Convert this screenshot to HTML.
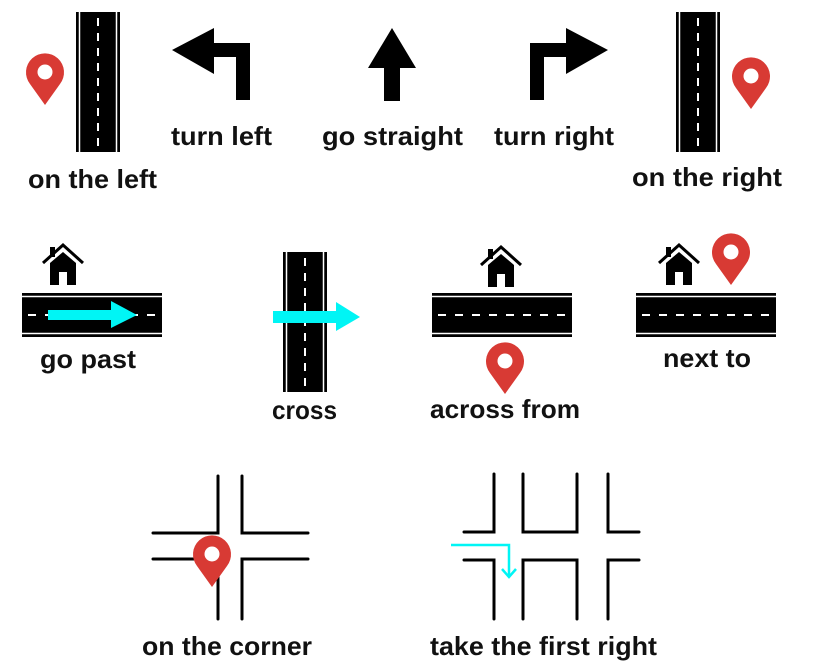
<!DOCTYPE html>
<html><head><meta charset="utf-8"><style>html,body{margin:0;padding:0;background:#fff}svg{display:block}text{font-family:"Liberation Sans",sans-serif;font-weight:bold;font-size:26px;fill:#111}</style></head>
<body>
<svg width="822" height="666" viewBox="0 0 822 666" xmlns="http://www.w3.org/2000/svg">
<defs>
<g id="pin"><path d="M19 52 L4 31 A19 19 0 1 1 34 31 Z" fill="#d83a34"/><circle cx="19" cy="19" r="7.5" fill="#fff"/></g>
<g id="vroad"><rect x="0" y="0" width="44" height="140" fill="#000"/><line x1="3.5" y1="0" x2="3.5" y2="140" stroke="#fff" stroke-width="1.5"/><line x1="40.5" y1="0" x2="40.5" y2="140" stroke="#fff" stroke-width="1.5"/><line x1="22" y1="6" x2="22" y2="140" stroke="#fff" stroke-width="2" stroke-dasharray="8,7"/></g>
<g id="hroad"><rect x="0" y="0" width="140" height="44" fill="#000"/><line x1="0" y1="3.5" x2="140" y2="3.5" stroke="#fff" stroke-width="1.5"/><line x1="0" y1="40.5" x2="140" y2="40.5" stroke="#fff" stroke-width="1.5"/><line x1="6" y1="22" x2="140" y2="22" stroke="#fff" stroke-width="2" stroke-dasharray="8,9"/></g>
<g id="house"><polyline points="1,20 21,2 41,20" fill="none" stroke="#000" stroke-width="3"/><rect x="8" y="4" width="5" height="10" fill="#000"/><path d="M8 20 L21 9 L34 20 L34 42 L8 42 Z" fill="#000"/><rect x="17" y="29" width="8" height="13" fill="#fff"/></g>
</defs>

<use href="#vroad" x="76" y="12"/>
<use href="#pin" x="26" y="53"/>
<text x="28" y="188" textLength="129" lengthAdjust="spacingAndGlyphs">on the left</text>
<path d="M172 50 L214 28 L214 43 L250 43 L250 100 L236 100 L236 57 L214 57 L214 74 Z" fill="#000"/>
<text x="171" y="145" textLength="101" lengthAdjust="spacingAndGlyphs">turn left</text>
<path d="M392 28 L416 68 L400 68 L400 101 L384 101 L384 68 L368 68 Z" fill="#000"/>
<text x="322" y="145" textLength="141" lengthAdjust="spacingAndGlyphs">go straight</text>
<path d="M608 50 L566 28 L566 43 L530 43 L530 100 L544 100 L544 57 L566 57 L566 74 Z" fill="#000"/>
<text x="494" y="145" textLength="120" lengthAdjust="spacingAndGlyphs">turn right</text>
<use href="#vroad" x="676" y="12"/>
<use href="#pin" x="732" y="57"/>
<text x="632" y="186" textLength="150" lengthAdjust="spacingAndGlyphs">on the right</text>

<use href="#house" x="42" y="243"/>
<use href="#hroad" x="22" y="293"/>
<path d="M48 310 L111 310 L111 301 L137 315 L111 328 L111 320 L48 320 Z" fill="#00f5f5"/>
<text x="40" y="368" textLength="96" lengthAdjust="spacingAndGlyphs">go past</text>

<use href="#vroad" x="283" y="252"/>
<path d="M273 311 L336 311 L336 302 L360 317 L336 331 L336 323 L273 323 Z" fill="#00f5f5"/>
<text x="272" y="419" textLength="65" lengthAdjust="spacingAndGlyphs">cross</text>

<use href="#house" x="480" y="245"/>
<use href="#hroad" x="432" y="293"/>
<use href="#pin" x="486" y="342"/>
<text x="430" y="418" textLength="150" lengthAdjust="spacingAndGlyphs">across from</text>

<use href="#house" x="658" y="243"/>
<use href="#pin" x="712" y="233"/>
<use href="#hroad" x="636" y="293"/>
<text x="663" y="367" textLength="88" lengthAdjust="spacingAndGlyphs">next to</text>

<g fill="none" stroke="#000" stroke-width="3" stroke-linecap="round" stroke-linejoin="miter">
<polyline points="218,476 218,533 153,533"/>
<polyline points="242,476 242,533 308,533"/>
<polyline points="153,559 218,559 218,619"/>
<polyline points="308,559 242,559 242,619"/>
<polyline points="494,474 494,532 464,532"/>
<polyline points="523,474 523,532 577,532 577,474"/>
<polyline points="608,474 608,532 639,532"/>
<polyline points="464,560 494,560 494,619"/>
<polyline points="523,619 523,560 577,560 577,619"/>
<polyline points="639,560 608,560 608,619"/>
</g>
<use href="#pin" x="193" y="535"/>
<text x="142" y="655" textLength="170" lengthAdjust="spacingAndGlyphs">on the corner</text>

<g fill="none" stroke="#00f5f5" stroke-width="2.5">
<polyline points="451,545 509,545 509,577"/>
<polyline points="502,569 509,577 516,569"/>
</g>
<text x="430" y="655" textLength="227" lengthAdjust="spacingAndGlyphs">take the first right</text>
</svg>
</body></html>
